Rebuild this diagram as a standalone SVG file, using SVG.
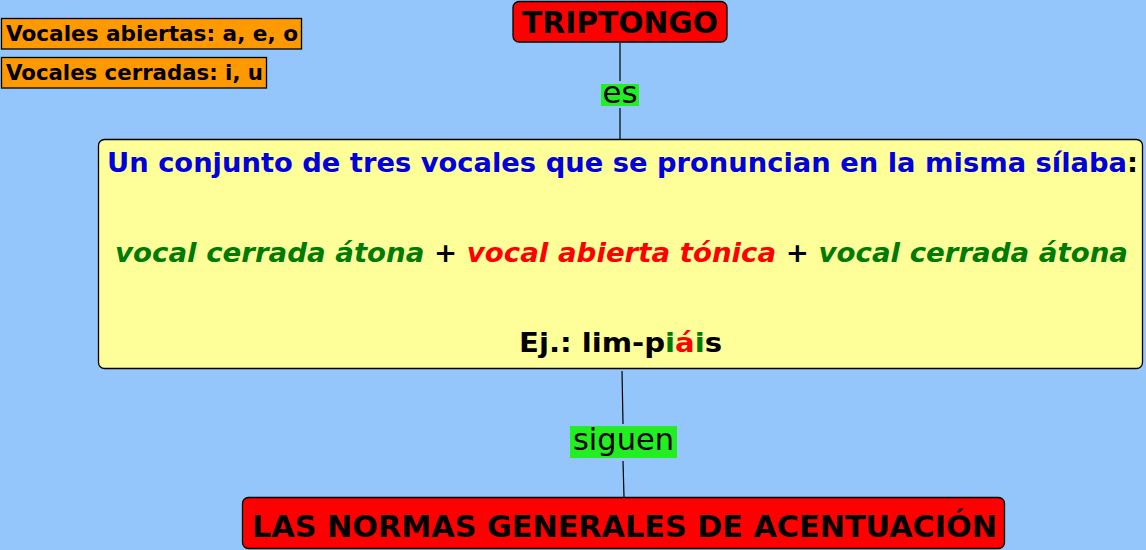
<svg xmlns="http://www.w3.org/2000/svg" width="1146" height="550" viewBox="0 0 1146 550">
<style>
.b{font-family:"DejaVu Sans","Liberation Sans",sans-serif;font-weight:bold}
.n{font-family:"DejaVu Sans","Liberation Sans",sans-serif}
.org{fill:#FF9900;stroke:#000;stroke-width:1.3}
.red{fill:#FF0000;stroke:#000;stroke-width:1.3}
.lbl{fill:#22EE22}
.ln{stroke:#000;stroke-width:1.2}
</style>
<rect width="1146" height="550" fill="#94C5FB"/>
<g id="connectors">
<line class="ln" x1="620" y1="43" x2="620" y2="81"/>
<line class="ln" x1="620" y1="108" x2="620" y2="139"/>
<line class="ln" x1="622" y1="371" x2="623" y2="424"/>
<line class="ln" x1="623" y1="461" x2="624" y2="497"/>
<g id="lbl-es"><rect class="lbl" x="601" y="84" width="38" height="22"/><text class="n" x="620" y="103" font-size="30" text-anchor="middle" textLength="35" lengthAdjust="spacingAndGlyphs">es</text></g>
<g id="lbl-siguen"><rect class="lbl" x="570" y="426" width="107" height="32"/><text class="n" x="623.5" y="450" font-size="30" text-anchor="middle" textLength="101" lengthAdjust="spacingAndGlyphs">siguen</text></g>
</g>
<g id="n-abiertas"><rect class="org" x="1.5" y="18.5" width="300" height="30.5"/><text class="b" x="6" y="41" font-size="21" textLength="292" lengthAdjust="spacingAndGlyphs">Vocales abiertas: a, e, o</text></g>
<g id="n-cerradas"><rect class="org" x="1.5" y="57.5" width="265" height="30.5"/><text class="b" x="6" y="80" font-size="21" textLength="257" lengthAdjust="spacingAndGlyphs">Vocales cerradas: i, u</text></g>
<g id="n-triptongo"><rect class="red" x="513" y="1.5" width="214" height="40.5" rx="6"/><text class="b" x="522" y="33" font-size="30" textLength="196" lengthAdjust="spacingAndGlyphs">TRIPTONGO</text></g>
<g id="n-def"><rect x="98.5" y="139.5" width="1044" height="229" rx="6" fill="#FFFF99" stroke="#000" stroke-width="1.3"/>
<text class="b" x="107" y="172" font-size="27" textLength="1031" lengthAdjust="spacingAndGlyphs"><tspan fill="#0000DD">Un conjunto de tres vocales que se pronuncian en la misma sílaba</tspan><tspan fill="#000">:</tspan></text>
<text class="b" x="115" y="262" font-size="27" font-style="italic" textLength="1013" lengthAdjust="spacingAndGlyphs"><tspan fill="#007A00">vocal cerrada átona</tspan><tspan fill="#000"> + </tspan><tspan fill="#FF0000">vocal abierta tónica</tspan><tspan fill="#000"> + </tspan><tspan fill="#007A00">vocal cerrada átona</tspan></text>
<text class="b" x="519" y="352" font-size="27" textLength="203" lengthAdjust="spacingAndGlyphs" fill="#000">Ej.: lim-p<tspan fill="#007A00">i</tspan><tspan fill="#FF0000">á</tspan><tspan fill="#007A00">i</tspan>s</text>
</g>
<g id="n-normas"><rect class="red" x="242.5" y="497.5" width="762" height="51" rx="6"/><text class="b" x="252" y="537" font-size="30" textLength="745" lengthAdjust="spacingAndGlyphs">LAS NORMAS GENERALES DE ACENTUACIÓN</text></g>
</svg>
